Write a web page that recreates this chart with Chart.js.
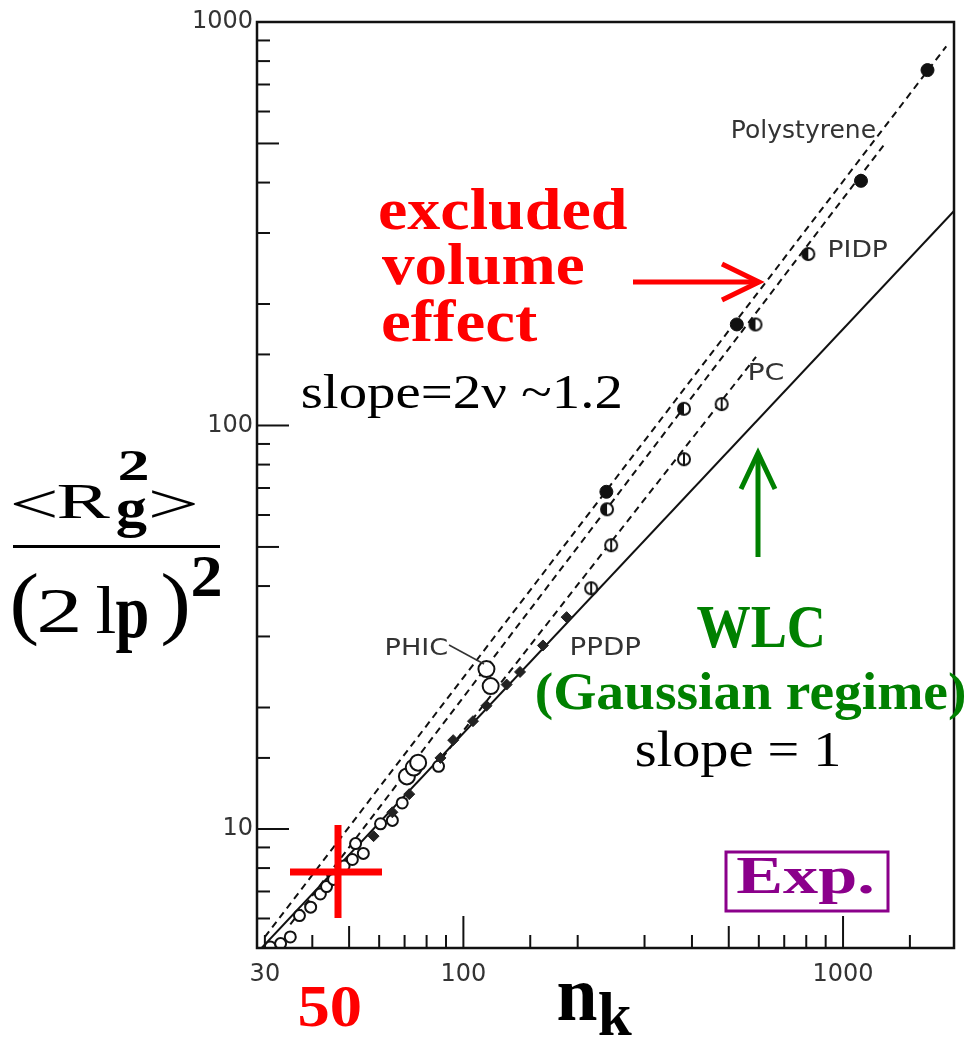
<!DOCTYPE html>
<html>
<head>
<meta charset="utf-8">
<style>
  html, body { margin: 0; background: #fff; }
  canvas { display: block; }
</style>
</head>
<body>
<canvas id="rgChart" width="966" height="1037"></canvas>
<script src="https://cdn.jsdelivr.net/npm/chart.js@4/dist/chart.umd.min.js"></script>
<script>
// axis label values
const xTickLabels = [30, 100, 1000];
const yTickLabels = [10, 100, 1000];

// measured points, n_k vs <Rg^2>/(2lp)^2
const polystyreneN = [238, 525, 1115, 1669];
const polystyreneR = [68.5, 178, 404, 760];
const pidpN = [239, 381, 588, 810];
const pidpR = [62, 110, 178, 266];
const pcN = [217, 245, 381, 479];
const pcR = [39.5, 50.5, 82.5, 113];
const phicN = [71, 74, 76, 115, 118];
const phicR = [13.5, 14.2, 14.6, 24.9, 22.6];
const ppdpN = [58, 65, 72, 87, 94, 106, 115, 130, 141, 162, 187];
const ppdpR = [9.6, 11.0, 12.2, 15.0, 16.6, 18.5, 20.2, 22.8, 24.5, 28.5, 33.5];
const otherN = [31, 33, 35, 37, 39.6, 42, 43.6, 45.5, 48.5, 51, 52, 54.5, 60.5, 65, 69, 86];
const otherR = [5.1, 5.2, 5.4, 6.1, 6.4, 6.9, 7.2, 7.5, 8.1, 8.4, 9.2, 8.7, 10.3, 10.5, 11.6, 14.3];

// fitted lines (end points)
const wlcN = [29, 1960];
const wlcR = [5.0, 340];
const psFitN = [30, 1870];
const psFitR = [5.4, 870];
const pidpFitN = [35, 1290];
const pidpFitR = [5.8, 500];
const pcFitN = [84, 590];
const pcFitR = [14.2, 148];

const pts = (xs, ys) => xs.map((x, i) => ({x: x, y: ys[i]}));

// small marker images: open circle with a bar / half filled circle
function marker(kind) {
  const c = document.createElement('canvas');
  c.width = 16; c.height = 16;
  const g = c.getContext('2d');
  g.lineWidth = 2;
  g.strokeStyle = '#111';
  g.fillStyle = '#fff';
  g.beginPath(); g.arc(8, 8, 6, 0, Math.PI * 2); g.fill(); g.stroke();
  if (kind === 'bar') {
    g.beginPath(); g.moveTo(8, 1); g.lineTo(8, 15); g.stroke();
  } else if (kind === 'half') {
    g.fillStyle = '#111';
    g.beginPath(); g.arc(8, 8, 6, Math.PI / 2, Math.PI * 1.5); g.fill();
  }
  return c;
}

function fitText(ctx, text, font, color, l, t, r, b) {
  ctx.font = font;
  const m = ctx.measureText(text);
  const w = m.actualBoundingBoxLeft + m.actualBoundingBoxRight;
  const h = m.actualBoundingBoxAscent + m.actualBoundingBoxDescent;
  ctx.save();
  ctx.fillStyle = color;
  ctx.textAlign = 'left';
  ctx.textBaseline = 'alphabetic';
  ctx.translate(l, t);
  ctx.scale((r - l) / w, (b - t) / h);
  ctx.fillText(text, m.actualBoundingBoxLeft, m.actualBoundingBoxAscent);
  ctx.restore();
}

function seg(ctx, pts, color, w) {
  ctx.beginPath();
  ctx.moveTo(pts[0][0], pts[0][1]);
  for (let i = 1; i < pts.length; i++) ctx.lineTo(pts[i][0], pts[i][1]);
  ctx.strokeStyle = color;
  ctx.lineWidth = w;
  ctx.stroke();
}

const decor = {
  id: 'decor',
  afterDraw(chart) {
    const ctx = chart.ctx;
    const a = chart.chartArea;
    const xs = chart.scales.x, ys = chart.scales.y;
    ctx.save();
    ctx.lineCap = 'butt';
    ctx.lineJoin = 'miter';

    // frame
    ctx.strokeStyle = '#111';
    ctx.lineWidth = 2.5;
    ctx.strokeRect(a.left, a.top, a.right - a.left, a.bottom - a.top);

    // inward ticks
    const tlen = v => {
      const m = Math.round(v / Math.pow(10, Math.floor(Math.log10(v) + 1e-9)));
      return m === 1 ? 32 : (m === 5 ? 22 : 13);
    };
    xs.ticks.forEach(t => {
      const p = xs.getPixelForValue(t.value);
      if (p <= a.left + 2 || p >= a.right - 2) return;
      seg(ctx, [[p, a.bottom], [p, a.bottom - tlen(t.value)]], '#111', 2);
    });
    ys.ticks.forEach(t => {
      const p = ys.getPixelForValue(t.value);
      if (p <= a.top + 2 || p >= a.bottom - 2) return;
      seg(ctx, [[a.left, p], [a.left + tlen(t.value), p]], '#111', 2);
    });

    // polymer names
    const small = '100px "DejaVu Sans"';
    fitText(ctx, 'Polystyrene', small, '#333', 733, 119, 875, 143);
    fitText(ctx, 'PIDP', small, '#333', 830, 240, 887, 257);
    fitText(ctx, 'PC', small, '#333', 750, 362, 783, 380);
    fitText(ctx, 'PHIC', small, '#333', 387, 637, 447, 655);
    fitText(ctx, 'PPDP', small, '#333', 572, 637, 640, 655);
    seg(ctx, [[449, 645], [484, 664]], '#333', 1.5);

    // annotations
    const serifB = 'bold 100px "Liberation Serif"';
    const serif = '100px "Liberation Serif"';
    fitText(ctx, 'excluded', serifB, '#ff0000', 380, 188, 627, 230);
    fitText(ctx, 'volume', serifB, '#ff0000', 382, 243, 583, 285);
    fitText(ctx, 'effect', serifB, '#ff0000', 383, 300, 537, 342);
    fitText(ctx, 'slope=2\u03bd ~1.2', serif, '#000', 303, 374, 620, 418);

    fitText(ctx, 'WLC', serifB, '#008000', 697, 606, 822, 648);
    fitText(ctx, '(Gaussian regime)', serifB, '#008000', 537, 672, 964, 720);
    fitText(ctx, 'slope = 1', serif, '#000', 637, 731, 838, 776);

    // arrows
    seg(ctx, [[633, 282], [756, 282]], '#ff0000', 5);
    seg(ctx, [[722, 264], [759, 282], [722, 300]], '#ff0000', 5);
    seg(ctx, [[758, 557], [758, 456]], '#008000', 5);
    seg(ctx, [[741, 489], [758, 453], [775, 489]], '#008000', 5);

    // n = 50 cross
    seg(ctx, [[290, 872], [382, 872]], '#ff0000', 7);
    seg(ctx, [[338, 825], [338, 918]], '#ff0000', 7);
    fitText(ctx, '50', serifB, '#ff0000', 300, 987, 360, 1027);

    // Exp. box
    ctx.strokeStyle = '#8b008b';
    ctx.lineWidth = 3;
    ctx.strokeRect(726, 852, 162, 59);
    fitText(ctx, 'Exp.', serifB, '#8b008b', 737, 858, 872, 904);

    // x title n_k
    fitText(ctx, 'n', serifB, '#000', 558, 983, 597, 1020);
    fitText(ctx, 'k', serifB, '#000', 599, 992, 632, 1035);

    // y title <Rg^2>/(2 lp)^2
    fitText(ctx, '<', serif, '#000', 13, 490, 55, 518);
    fitText(ctx, 'R', serif, '#000', 58, 485, 110, 518);
    fitText(ctx, 'g', serifB, '#000', 117, 497, 147, 538);
    fitText(ctx, '2', serifB, '#000', 120, 450, 147, 480);
    fitText(ctx, '>', serif, '#000', 152, 490, 195, 518);
    ctx.fillStyle = '#000';
    ctx.fillRect(13, 545, 207, 3);
    fitText(ctx, '(', serif, '#000', 13, 573, 37, 647);
    fitText(ctx, '2', serif, '#000', 40, 590, 78, 633);
    fitText(ctx, 'l', serif, '#000', 97, 587, 115, 633);
    fitText(ctx, 'p', serifB, '#000', 116, 600, 147, 653);
    fitText(ctx, ')', serif, '#000', 163, 573, 187, 647);
    fitText(ctx, '2', serifB, '#000', 193, 557, 220, 597);

    ctx.restore();
  }
};

const openPt = (r) => ({pointRadius: r, pointBackgroundColor: '#fff', pointBorderColor: '#111', pointBorderWidth: 2});
const fitLine = (dash) => ({showLine: true, pointRadius: 0, borderColor: '#111', borderWidth: 2, borderDash: dash, fill: false});

new Chart('rgChart', {
  type: 'scatter',
  data: {
    datasets: [
      {label: 'Polystyrene', data: pts(polystyreneN, polystyreneR),
        pointRadius: 6.5, pointBackgroundColor: '#111', pointBorderColor: '#111'},
      {label: 'PIDP', data: pts(pidpN, pidpR), pointStyle: marker('half')},
      {label: 'PC', data: pts(pcN, pcR), pointStyle: marker('bar')},
      Object.assign({label: 'PHIC', data: pts(phicN, phicR)}, openPt(8)),
      {label: 'PPDP', data: pts(ppdpN, ppdpR), pointStyle: 'rectRot', pointRadius: 5.5,
        pointBackgroundColor: '#222', pointBorderColor: '#222'},
      Object.assign({label: 'other', data: pts(otherN, otherR)}, openPt(5.5)),
      Object.assign({label: 'WLC', data: pts(wlcN, wlcR)}, fitLine([])),
      Object.assign({label: 'PS fit', data: pts(psFitN, psFitR)}, fitLine([7, 5])),
      Object.assign({label: 'PIDP fit', data: pts(pidpFitN, pidpFitR)}, fitLine([7, 5])),
      Object.assign({label: 'PC fit', data: pts(pcFitN, pcFitR)}, fitLine([7, 5]))
    ]
  },
  options: {
    responsive: false,
    devicePixelRatio: 1,
    animation: false,
    layout: {padding: {top: 22, right: 9, left: 0, bottom: 0}},
    plugins: {legend: {display: false}, tooltip: {enabled: false}},
    scales: {
      x: {
        type: 'logarithmic', min: 28.6, max: 1960,
        grid: {display: false, drawTicks: false},
        border: {display: false},
        afterFit: s => { s.height = 89; },
        ticks: {
          autoSkip: false, maxRotation: 0, padding: 12,
          color: '#333', font: {family: 'DejaVu Sans', size: 24},
          callback: v => xTickLabels.some(l => Math.abs(l - v) < 1e-6 * l) ? String(Math.round(v)) : ''
        }
      },
      y: {
        type: 'logarithmic', min: 5.07, max: 1000,
        grid: {display: false, drawTicks: false},
        border: {display: false},
        afterFit: s => { s.width = 257; },
        ticks: {
          autoSkip: false, padding: 4,
          color: '#333', font: {family: 'DejaVu Sans', size: 24},
          callback: v => yTickLabels.some(l => Math.abs(l - v) < 1e-6 * l) ? String(Math.round(v)) : ''
        }
      }
    }
  },
  plugins: [decor]
});
</script>
</body>
</html>
